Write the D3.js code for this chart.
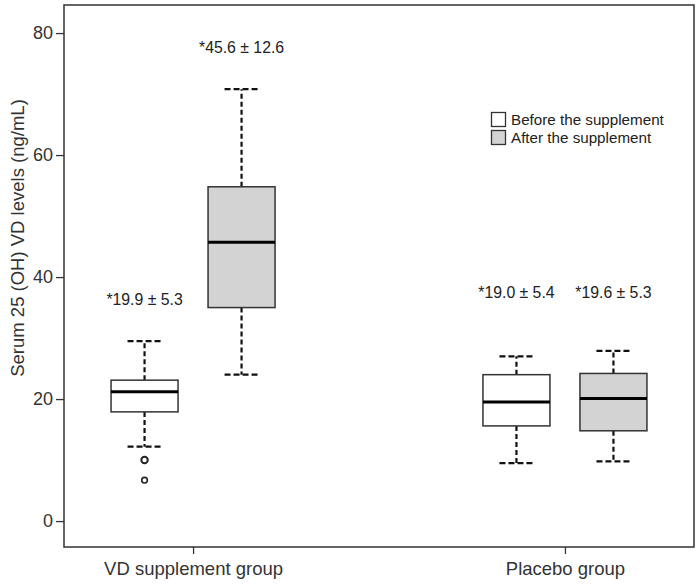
<!DOCTYPE html>
<html><head><meta charset="utf-8">
<script src="https://cdn.jsdelivr.net/npm/d3@7/dist/d3.min.js"></script>
<style>body{margin:0;background:#fff;} text{font-family:"Liberation Sans",Arial,sans-serif;}</style>
</head><body><svg id="c" width="700" height="584"></svg>
<script>
const groups = ["VD supplement group", "Placebo group"];
const phases = ["Before the supplement", "After the supplement"];
const boxGroup = ["VD supplement group","VD supplement group","Placebo group","Placebo group"];
const boxPhase = ["Before the supplement","After the supplement","Before the supplement","After the supplement"];
const whiskerLow = [12.2, 24.0, 9.5, 9.8];
const q1 = [17.9, 35.0, 15.6, 14.8];
const median = [21.2, 45.7, 19.5, 20.1];
const q3 = [23.1, 54.8, 24.0, 24.2];
const whiskerHigh = [29.5, 70.8, 27.0, 27.9];
const outlierGroup = ["VD supplement group","VD supplement group"];
const outlierPhase = ["Before the supplement","Before the supplement"];
const outlierValue = [10.0, 6.7];
const labelText = ["*19.9 ± 5.3", "*45.6 ± 12.6", "*19.0 ± 5.4", "*19.6 ± 5.3"];
const labelValue = [35.4, 76.8, 36.5, 36.5];
const yTicks = [0, 20, 40, 60, 80];

const svg = d3.select("#c");
const L = 64, R = 694, T = 5, B = 547;
const y = d3.scaleLinear().domain([-4.25, 84.6]).range([B, T]);
const x = d3.scalePoint().domain(groups).range([L, R]).padding(0.347);
const xs = d3.scaleBand().domain(phases).range([-97, 97]);
const bw = 67;
const cx = i => x(boxGroup[i]) + xs(boxPhase[i]) + xs.bandwidth()/2;
const fills = {"Before the supplement":"#ffffff","After the supplement":"#d3d3d3"};
const stroke = "#333";
const font = "Liberation Sans, Arial, sans-serif";

// frame
svg.append("rect").attr("x", L).attr("y", T).attr("width", R-L).attr("height", B-T)
  .attr("fill","none").attr("stroke", stroke).attr("stroke-width", 1.5);

// y axis
const ya = svg.append("g").attr("transform", `translate(${L},0)`)
  .call(d3.axisLeft(y).tickValues(yTicks).tickSize(8).tickPadding(3).tickSizeOuter(0).tickFormat(d3.format("d")));
ya.select(".domain").remove();
ya.selectAll("line").attr("stroke", stroke).attr("stroke-width", 1.3);
ya.selectAll("text").attr("font-size", 18).attr("fill", "#333").attr("font-family", font);

// x axis
const xa = svg.append("g").attr("transform", `translate(0,${B})`)
  .call(d3.axisBottom(x).tickSize(7).tickSizeOuter(0));
xa.select(".domain").remove();
xa.selectAll("line").attr("stroke", stroke).attr("stroke-width", 1.3);
xa.selectAll("text").attr("font-size", 18.5).attr("fill", "#333").attr("y", 15).attr("dy", "0.71em").attr("font-family", font);

// y title
svg.append("text").attr("transform", `translate(24,238) rotate(-90)`)
  .attr("text-anchor","middle").attr("font-size", 18.5).attr("fill","#333")
  .text("Serum 25 (OH) VD levels (ng/mL)");

// boxes
for (let i = 0; i < median.length; i++) {
  const c = cx(i);
  const g = svg.append("g");
  const dash = "5,3";
  g.append("line").attr("x1", c).attr("x2", c).attr("y1", y(q3[i])).attr("y2", y(whiskerHigh[i]))
    .attr("stroke", "#111").attr("stroke-width", 2.2).attr("stroke-dasharray", dash);
  g.append("line").attr("x1", c).attr("x2", c).attr("y1", y(q1[i])).attr("y2", y(whiskerLow[i]))
    .attr("stroke", "#111").attr("stroke-width", 2.2).attr("stroke-dasharray", dash);
  [whiskerHigh[i], whiskerLow[i]].forEach(v => {
    g.append("line").attr("x1", c - 17).attr("x2", c + 17).attr("y1", y(v)).attr("y2", y(v))
      .attr("stroke", "#111").attr("stroke-width", 2.2).attr("stroke-dasharray", "6,3");
  });
  g.append("rect").attr("x", c - bw/2).attr("y", y(q3[i])).attr("width", bw).attr("height", y(q1[i]) - y(q3[i]))
    .attr("fill", fills[boxPhase[i]]).attr("stroke", stroke).attr("stroke-width", 1.5);
  g.append("line").attr("x1", c - bw/2).attr("x2", c + bw/2).attr("y1", y(median[i])).attr("y2", y(median[i]))
    .attr("stroke", "#000").attr("stroke-width", 3);
  svg.append("text").attr("x", c).attr("y", y(labelValue[i])).attr("text-anchor","middle")
    .attr("font-size", 15.8).attr("fill","#222").text(labelText[i]);
}
// outliers
outlierValue.forEach((v, j) => {
  const c = x(outlierGroup[j]) + xs(outlierPhase[j]) + xs.bandwidth()/2;
  svg.append("circle").attr("cx", c).attr("cy", y(v)).attr("r", j === 0 ? 3.2 : 2.8)
    .attr("fill", "none").attr("stroke", "#222").attr("stroke-width", j === 0 ? 2 : 1.6);
});

// legend
const lg = svg.append("g").attr("transform", "translate(491,112)");
phases.forEach((p, i) => {
  lg.append("rect").attr("x", 0.5).attr("y", i*18 + 0.5).attr("width", 14).attr("height", 14)
    .attr("fill", fills[p]).attr("stroke", stroke).attr("stroke-width", 1.3);
  lg.append("text").attr("x", 20).attr("y", i*18 + 13).attr("font-size", 15.2).attr("fill","#222").text(p);
});
</script></body></html>
